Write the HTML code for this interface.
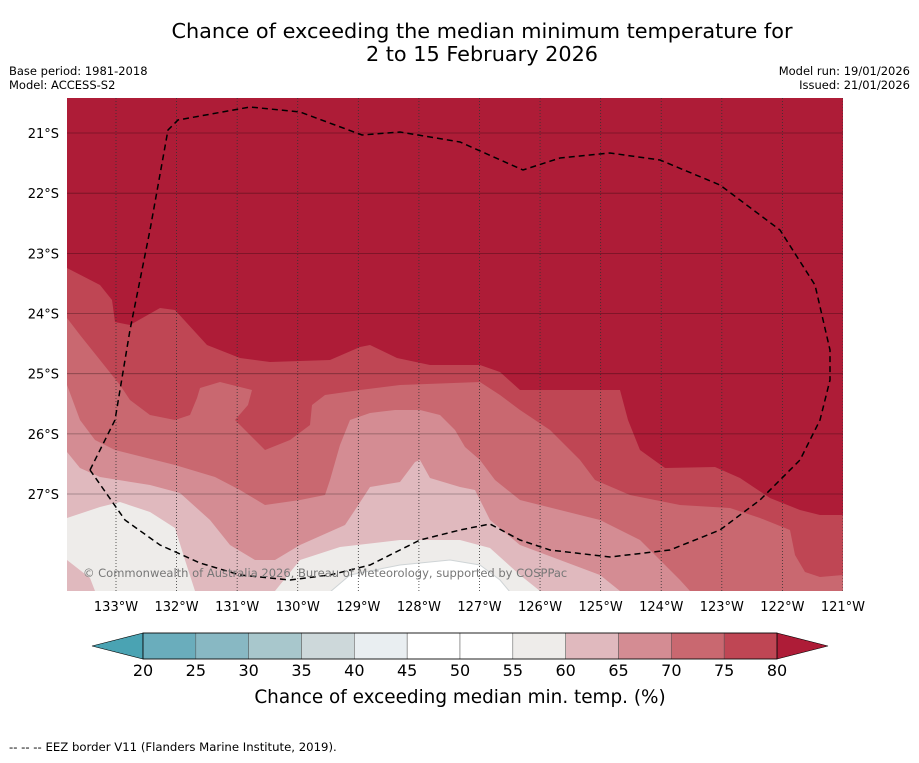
<!DOCTYPE html>
<html><head><meta charset="utf-8"><style>
body{margin:0;background:#fff;font-family:"Liberation Sans","DejaVu Sans",sans-serif;}
svg text{font-family:"DejaVu Sans","Liberation Sans",sans-serif;}
</style></head><body>
<svg id="chart" width="919" height="758" viewBox="0 0 919 758" xmlns="http://www.w3.org/2000/svg">
<text x="482" y="38" font-size="20.8" text-anchor="middle">Chance of exceeding the median minimum temperature for</text>
<text x="482" y="61" font-size="20.8" text-anchor="middle">2 to 15 February 2026</text>
<text x="9" y="75" font-size="11.5">Base period: 1981-2018</text>
<text x="9" y="89" font-size="11.5">Model: ACCESS-S2</text>
<text x="910" y="75" font-size="11.5" text-anchor="end">Model run: 19/01/2026</text>
<text x="910" y="89" font-size="11.5" text-anchor="end">Issued: 21/01/2026</text>
<defs><clipPath id="mc"><rect x="67" y="98" width="776" height="493"/></clipPath></defs>
<g clip-path="url(#mc)">
<rect x="67" y="98" width="776" height="493" fill="#ae1c37"/>
<path fill="#bf4654" d="M67,268 L100,285 112,300 115,322 130,325 160,308 175,310 207,345 240,358 270,362 330,360 360,347 370,345 397,358 430,365 480,365 500,372 520,390 620,390 628,420 640,450 665,468 715,467 740,478 770,498 800,510 820,515 843,515 L843,591 67,591Z"/>
<path fill="#c96870" d="M67,318 L80,335 100,360 120,385 130,400 150,415 175,420 190,415 197,398 200,388 220,382 252,390 248,405 235,420 250,435 265,450 290,440 310,425 312,405 325,395 360,390 400,385 480,382 500,395 520,410 550,430 580,460 595,480 630,495 680,505 730,508 760,518 790,530 795,555 805,572 820,577 843,575 L843,591 67,591Z"/>
<path fill="#d48c93" d="M67,385 L80,420 95,440 115,450 175,465 215,477 240,490 265,505 300,500 325,495 330,480 340,445 350,420 370,413 395,410 420,410 440,415 455,430 465,447 480,460 495,480 520,500 560,510 600,520 640,540 660,560 680,580 690,591 L67,591Z"/>
<path fill="#e0b9be" d="M67,452 L80,468 100,477 150,485 180,493 210,520 230,545 255,560 275,560 300,545 345,525 355,510 370,487 400,482 415,462 420,460 430,478 460,487 475,490 490,520 520,545 560,560 600,575 620,591 L67,591Z"/>
<path fill="#eeecea" d="M67,518 L100,507 120,502 150,512 175,528 185,560 195,591 L95,591 90,578 67,560Z"/>
<path fill="#eeecea" d="M275,591 L300,560 340,547 400,540 460,540 490,548 520,575 540,591Z"/>
<path fill="#ffffff" stroke="#cfd4d6" stroke-width="1" d="M330,592 L350,575 400,565 450,560 480,565 500,580 510,592Z"/>
<g id="grid"></g>
<path fill="none" stroke="#000" stroke-width="1.5" stroke-dasharray="6,4" d="M90,470 L115,420 130,330 150,230 168,130 178,120 250,107 300,112 362,135 400,132 460,142 523,170 560,158 610,153 660,160 720,185 780,230 815,285 830,350 830,380 820,420 800,460 760,500 720,530 670,550 610,557 550,550 520,540 490,524 460,530 420,540 400,550 370,565 330,575 290,580 240,575 200,563 160,545 125,520 90,470"/>
<text x="83" y="577" font-size="11.5" fill="#777">© Commonwealth of Australia 2026, Bureau of Meteorology, supported by COSPPac</text>
</g>
<g id="axes"></g>
<g id="cbar"></g>
<text x="460" y="703" font-size="18.4" text-anchor="middle">Chance of exceeding median min. temp. (%)</text>
<text x="9" y="751" font-size="11.7">-- -- -- EEZ border V11 (Flanders Marine Institute, 2019).</text>
</svg>
<script>
const lonTicks=[133,132,131,130,129,128,127,126,125,124,123,122,121];
const latTicks=[21,22,23,24,25,26,27];
const cbLevels=[20,25,30,35,40,45,50,55,60,65,70,75,80];
const cbColors=["#6aadbc","#88b8c3","#a8c7cc","#cdd8da","#e9eef1","#ffffff","#ffffff","#eeecea","#e0b9be","#d48c93","#c96870","#bf4654"];
const cbUnder="#4aa3b3", cbOver="#ae1c37";
const NS="http://www.w3.org/2000/svg";
const xLon=w=>116+(133-w)*60.58;
const yLat=s=>133+(s-21)*60.17;
function mk(t,a,p){const e=document.createElementNS(NS,t);for(const k in a)e.setAttribute(k,a[k]);p.appendChild(e);return e;}
const grid=document.getElementById('grid'),axes=document.getElementById('axes');
lonTicks.forEach(w=>{const x=xLon(w);
 const l=mk('line',{x1:x,x2:x,y1:98,y2:591,stroke:'#333','stroke-width':0.8,'stroke-dasharray':'1,2'},grid);
 
 
 const t=mk('text',{x:x,y:611,'font-size':13,'text-anchor':'middle'},axes);t.textContent=w+'°W';
 
 });
latTicks.forEach(s=>{const y=yLat(s);
 const l=mk('line',{x1:67,x2:843,y1:y,y2:y,stroke:'rgba(0,0,0,0.35)','stroke-width':0.8},grid);
 
 
 const t=mk('text',{x:59,y:y+5,'font-size':13,'text-anchor':'end'},axes);t.textContent=s+'°S';
 
 });
const cb=document.getElementById('cbar');
const cx0=143,cx1=777,cy0=633,cy1=659,n=cbLevels.length-1,sw=(cx1-cx0)/n;
const cxv=v=>cx0+(v-cbLevels[0])/(cbLevels[n]-cbLevels[0])*(cx1-cx0);
const u=mk('polygon',{points:`${cx0},${cy0} 92,646 ${cx0},${cy1}`,fill:cbUnder,stroke:'#000','stroke-width':0.6},cb);


const o=mk('polygon',{points:`${cx1},${cy0} 828,646 ${cx1},${cy1}`,fill:cbOver,stroke:'#000','stroke-width':0.6},cb);


cbColors.forEach((c,i)=>{const r=mk('rect',{x:cxv(cbLevels[i]),y:cy0,width:sw,height:cy1-cy0,fill:c,stroke:'#555','stroke-width':0.5},cb);
 
 });
mk('rect',{x:cx0,y:cy0,width:cx1-cx0,height:cy1-cy0,fill:'none',stroke:'#000','stroke-width':0.8},cb);
cbLevels.forEach(v=>{const t=mk('text',{x:cxv(v),y:676,'font-size':16,'text-anchor':'middle'},cb);t.textContent=v;
 
 });
</script>
</body></html>
